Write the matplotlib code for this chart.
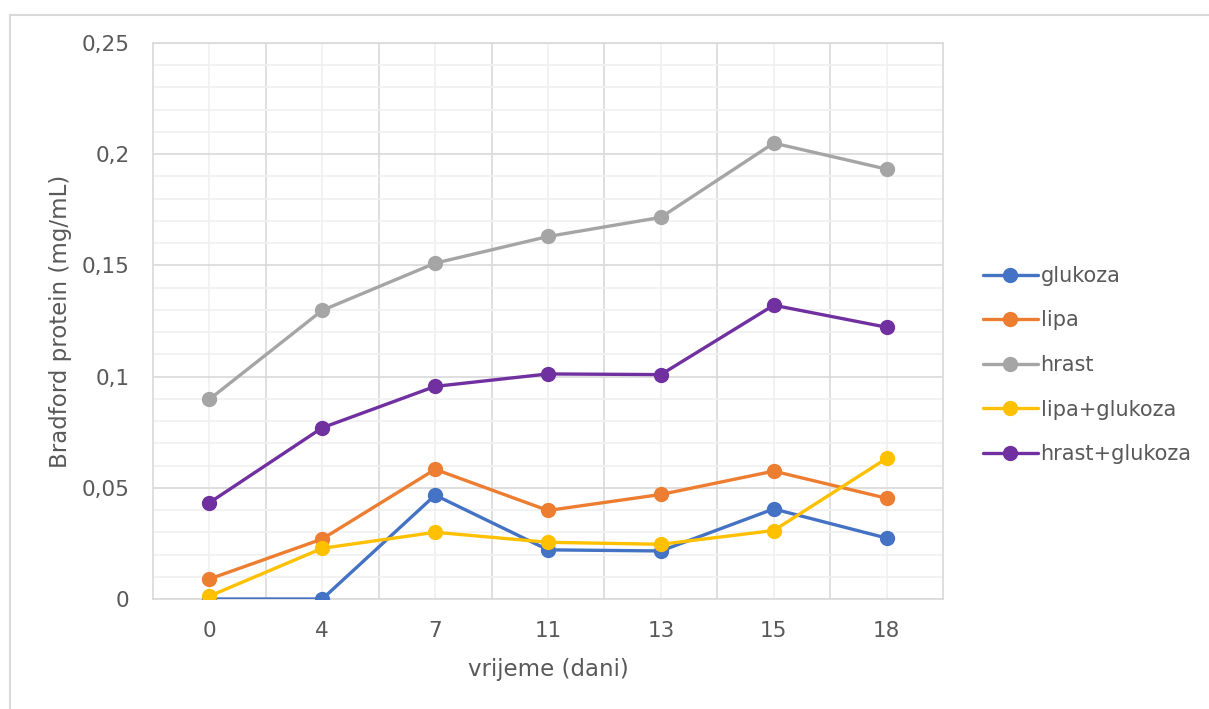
import matplotlib.pyplot as plt
from matplotlib.ticker import MultipleLocator, FixedLocator, FuncFormatter
from matplotlib.lines import Line2D

# podaci
dani = ['0', '4', '7', '11', '13', '15', '18']
glukoza = [0.0, 0.0, 0.0467, 0.0221, 0.0216, 0.0405, 0.0274]
lipa = [0.0090, 0.0270, 0.0583, 0.0398, 0.0470, 0.0575, 0.0453]
hrast = [0.0898, 0.1298, 0.1510, 0.1630, 0.1716, 0.2050, 0.1933]
lipa_glukoza = [0.0013, 0.0228, 0.0300, 0.0255, 0.0246, 0.0308, 0.0632]
hrast_glukoza = [0.0433, 0.0770, 0.0956, 0.1012, 0.1009, 0.1321, 0.1222]

serije = [
    ('glukoza', glukoza, '#4472C4'),
    ('lipa', lipa, '#ED7D31'),
    ('hrast', hrast, '#A5A5A5'),
    ('lipa+glukoza', lipa_glukoza, '#FFC000'),
    ('hrast+glukoza', hrast_glukoza, '#7030A0'),
]

tekst_boja = '#595959'
plt.rcParams['font.family'] = 'DejaVu Sans'

fig = plt.figure(figsize=(12.09, 7.09), dpi=100)
ax = fig.add_axes([153 / 1209, 1 - 599 / 709, (943 - 153) / 1209, (599 - 43) / 709])

# okvir grafikona (gornji i lijevi rub)
fig.add_artist(Line2D([10 / 1209, 10 / 1209], [0, 1 - 15 / 709], transform=fig.transFigure,
                      color='#d9d9d9', lw=1.5))
fig.add_artist(Line2D([10 / 1209, 1], [1 - 15 / 709, 1 - 15 / 709], transform=fig.transFigure,
                      color='#d9d9d9', lw=1.5))

x = list(range(len(dani)))
for ime, vrijednosti, boja in serije:
    ax.plot(x, vrijednosti, color=boja, lw=2.4, marker='o', markersize=10, label=ime,
            solid_capstyle='round', zorder=3)

ax.set_xlim(-0.5, len(dani) - 0.5)
ax.set_ylim(0, 0.25)

# mreža
ax.yaxis.set_major_locator(MultipleLocator(0.05))
ax.yaxis.set_minor_locator(MultipleLocator(0.01))
ax.xaxis.set_major_locator(FixedLocator(x))
ax.xaxis.set_minor_locator(FixedLocator([i + 0.5 for i in x[:-1]]))
ax.set_xticklabels(dani)
ax.yaxis.set_major_formatter(FuncFormatter(lambda v, p: '0' if v == 0 else f'{v:g}'.replace('.', ',')))

ax.grid(which='major', axis='y', color='#d9d9d9', lw=1.2, zorder=0)
ax.grid(which='minor', axis='y', color='#f0f0f0', lw=1.2, zorder=0)
ax.grid(which='major', axis='x', color='#f0f0f0', lw=1.2, zorder=0)
ax.grid(which='minor', axis='x', color='#d9d9d9', lw=1.2, zorder=0)
ax.set_axisbelow(True)

for s in ax.spines.values():
    s.set_color('#d9d9d9')
    s.set_linewidth(1.2)

ax.tick_params(which='both', length=0)
ax.tick_params(axis='y', pad=17, labelsize=15.5, labelcolor=tekst_boja)
ax.tick_params(axis='x', pad=16, labelsize=15.5, labelcolor=tekst_boja)

ax.set_xlabel('vrijeme (dani)', fontsize=16.5, color=tekst_boja)
ax.set_ylabel('Bradford protein (mg/mL)', fontsize=16.5, color=tekst_boja)
ax.xaxis.set_label_coords(0.5, (599 - 658) / 556)
ax.yaxis.set_label_coords((72 - 153) / 790, 0.5)

leg = ax.legend(loc='center left', bbox_to_anchor=(975 / 1209, 1 - 365 / 709),
                bbox_transform=fig.transFigure, frameon=False, fontsize=15,
                handlelength=2.6, handletextpad=0.15, labelspacing=1.18, borderaxespad=0)
for t in leg.get_texts():
    t.set_color(tekst_boja)

fig.savefig('out.png', dpi=100)
